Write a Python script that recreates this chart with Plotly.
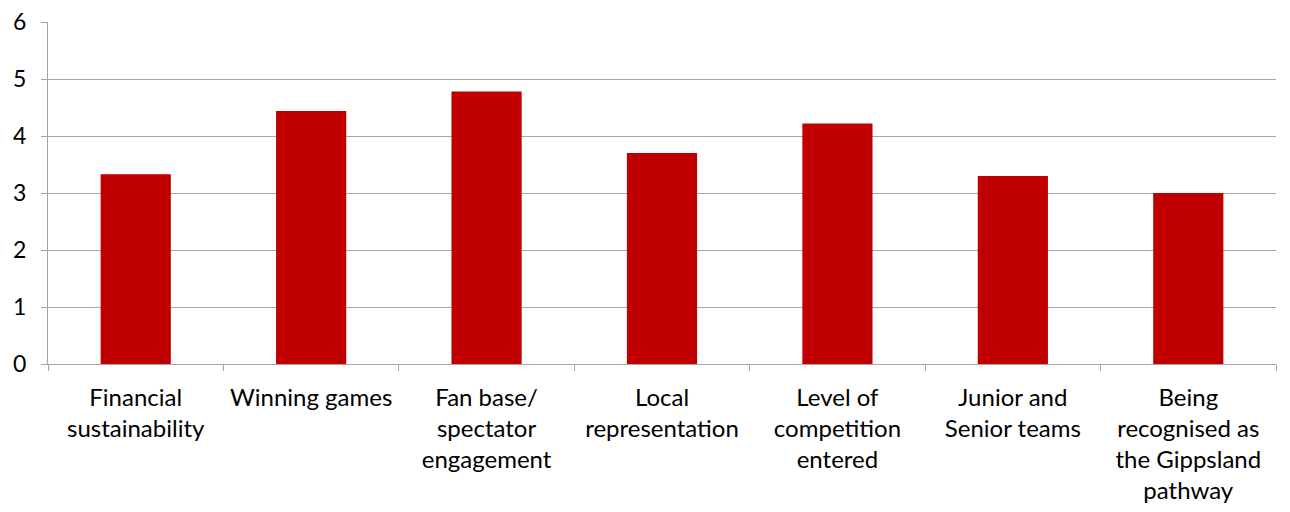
import plotly.graph_objects as go

categories = [
    "Financial<br>sustainability",
    "Winning games",
    "Fan base/<br>spectator<br>engagement",
    "Local<br>representation",
    "Level of<br>competition<br>entered",
    "Junior and<br>Senior teams",
    "Being<br>recognised as<br>the Gippsland<br>pathway",
]
values = [3.33, 4.44, 4.78, 3.70, 4.22, 3.30, 3.00]
y_ticks = [0, 1, 2, 3, 4, 5, 6]

fig = go.Figure(
    go.Bar(
        x=categories,
        y=values,
        marker=dict(color="#C00000", line=dict(width=0)),
    )
)

grid = "#A6A6A6"
fig.update_layout(
    width=1282,
    height=504,
    margin=dict(l=40, r=14, t=14, b=148),
    paper_bgcolor="white",
    plot_bgcolor="white",
    bargap=0.6,
    showlegend=False,
    font=dict(family="Lato, Carlito, Calibri, sans-serif", size=24, color="#000000"),
)
fig.update_xaxes(
    automargin=False,
    showline=True,
    linecolor=grid,
    linewidth=1,
    ticks="outside",
    tickson="boundaries",
    ticklen=6,
    tickcolor=grid,
    tickfont=dict(size=24),
    ticklabelstandoff=12,
    ticklabeloverflow="allow",
    showgrid=False,
)
fig.update_yaxes(
    automargin=False,
    range=[0, 6],
    tickvals=y_ticks,
    showline=True,
    linecolor=grid,
    linewidth=1,
    ticks="outside",
    ticklen=6,
    tickcolor=grid,
    showgrid=True,
    gridcolor=grid,
    gridwidth=1,
    zeroline=False,
    tickfont=dict(size=23),
    ticklabelstandoff=10,
    ticklabeloverflow="allow",
)

fig.write_html("out.html")
